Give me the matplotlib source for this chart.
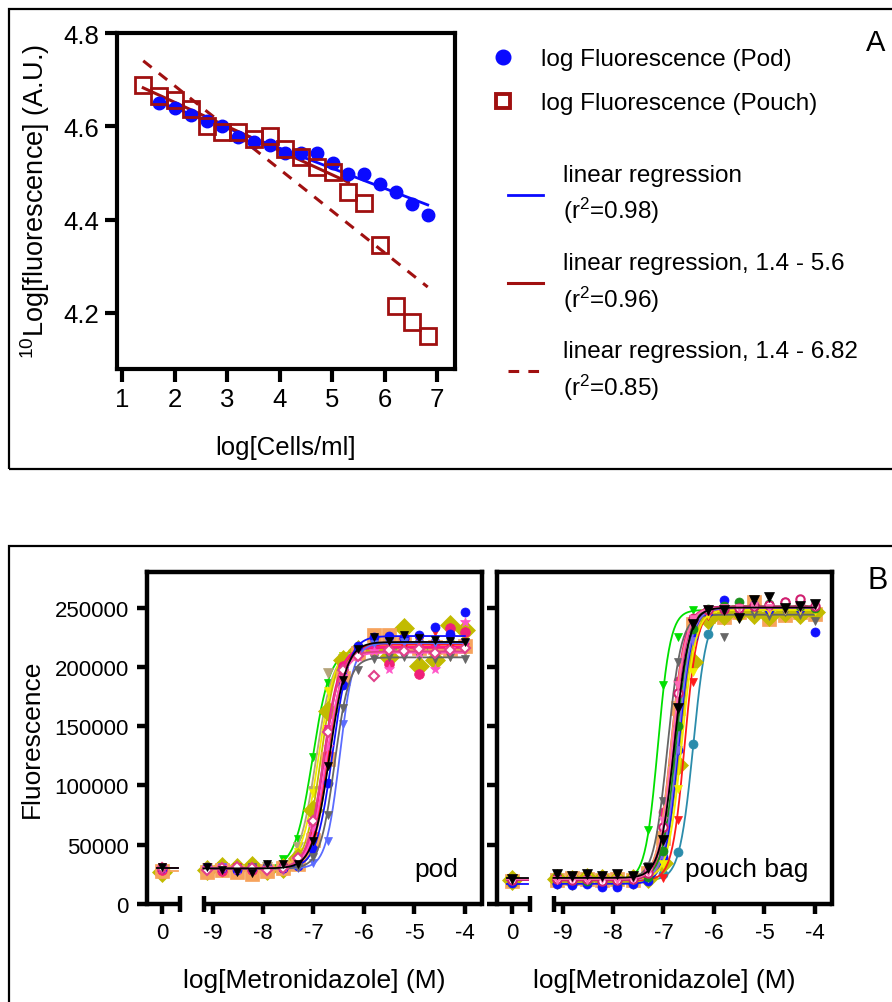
import numpy as np
import matplotlib
matplotlib.use('Agg')
import matplotlib.pyplot as plt
from matplotlib.lines import Line2D
from matplotlib.patches import Rectangle

plt.rcParams['font.family'] = ['Liberation Sans', 'DejaVu Sans']
plt.rcParams['mathtext.fontset'] = 'custom'
plt.rcParams['mathtext.rm'] = 'Liberation Sans'
plt.rcParams['mathtext.it'] = 'Liberation Sans:italic'
plt.rcParams['mathtext.bf'] = 'Liberation Sans:bold'

# ---------------- panel A data ----------------
cells_pod = [1.70, 2.00, 2.31, 2.61, 2.91, 3.21, 3.51, 3.81, 4.11, 4.41, 4.71,
             5.01, 5.31, 5.61, 5.92, 6.22, 6.52, 6.82]
fluor_pod = [4.650, 4.639, 4.625, 4.611, 4.601, 4.578, 4.566, 4.560, 4.543,
             4.542, 4.543, 4.521, 4.498, 4.498, 4.476, 4.459, 4.433, 4.411]
cells_pouch = [1.40, 1.70, 2.00, 2.31, 2.61, 2.91, 3.21, 3.51, 3.81, 4.11,
               4.41, 4.71, 5.01, 5.31, 5.61, 5.92, 6.22, 6.52, 6.82]
fluor_pouch = [4.689, 4.666, 4.657, 4.637, 4.600, 4.587, 4.587, 4.573, 4.580,
               4.552, 4.534, 4.512, 4.502, 4.460, 4.436, 4.345, 4.214, 4.181, 4.150]
pouch_cut = 5.6   # upper end of the partial regression

# ---------------- panel B data (fluorescence in thousands) ----------------
ctrl_pos = -10.0  # position of the "0" (no drug) group on the broken axis
log_conc = [-9.12, -8.82, -8.52, -8.22, -7.92, -7.61, -7.31, -7.01, -6.71,
            -6.41, -6.11, -5.81, -5.51, -5.21, -4.90, -4.60, -4.30, -4.00]

# first value of each row is the control ("0"), the rest follow log_conc
pod_values = [
    [30, 31, 29, 30, 31, 32, 38, 55, 124, 186, 209, 214, 216, 213, 217, 214, 215, 216, 214],
    [29, 30, 31, 28, 30, 31, 33, 48, 95, 195, 207, 212, 213, 215, 212, 214, 213, 209, 213],
    [30, 29, 30, 31, 29, 30, 32, 44, 94, 180, 209, 216, 219, 217, 218, 220, 216, 219, 218],
    [27, 29, 31, 30, 32, 29, 30, 39, 79, 163, 206, 214, 216, 208, 233, 201, 206, 235, 231],
    [28, 27, 29, 27, 25, 28, 30, 34, 54, 122, 191, 212, 227, 227, 219, 216, 217, 215, 218],
    [29, 30, 28, 30, 29, 31, 30, 38, 69, 147, 201, 213, 218, 202, 224, 194, 220, 233, 229],
    [30, 31, 30, 29, 30, 30, 31, 37, 66, 148, 199, 214, 216, 218, 217, 215, 218, 216, 217],
    [31, 30, 29, 31, 30, 30, 30, 35, 57, 126, 194, 214, 219, 221, 218, 222, 229, 218, 220],
    [30, 31, 30, 29, 30, 31, 30, 32, 46, 102, 185, 218, 225, 226, 224, 227, 234, 228, 246],
    [30, 29, 31, 30, 31, 30, 29, 30, 35, 53, 152, 208, 219, 220, 221, 219, 220, 221, 220],
    [30, 30, 29, 30, 31, 30, 30, 31, 40, 75, 165, 197, 207, 208, 208, 209, 207, 208, 207],
    [30, 30, 31, 29, 30, 30, 31, 38, 65, 132, 192, 208, 213, 198, 214, 212, 198, 215, 238],
    [30, 29, 30, 31, 30, 29, 30, 39, 70, 145, 197, 209, 192, 214, 213, 215, 212, 214, 216],
    [31, 31, 29, 27, 26, 34, 34, 34, 53, 116, 189, 215, 225, 222, 227, 224, 223, 222, 221],
]
# bottom, top, logEC50, hill of each fitted curve
pod_fits = [
    [30, 215, -7.02, 2.5], [30, 214, -6.95, 2.6], [30, 218, -6.90, 2.6],
    [30, 218, -6.85, 2.8], [28, 218, -6.70, 2.8], [30, 216, -6.80, 2.8],
    [30, 217, -6.78, 2.8], [30, 219, -6.72, 2.7], [30, 226, -6.62, 2.7],
    [30, 220, -6.48, 3.2], [30, 208, -6.58, 3.0], [30, 212, -6.75, 2.7],
    [30, 213, -6.80, 2.7], [30, 221, -6.68, 2.6],
]

pouch_values = [
    [20, 20, 21, 19, 20, 20, 24, 62, 185, 225, 248, 248, 249, 247, 248, 249, 248, 247, 248],
    [21, 19, 20, 19, 20, 21, 19, 20, 25, 44, 135, 228, 244, 246, 249, 247, 248, 246, 249],
    [20, 20, 19, 21, 20, 19, 21, 27, 78, 188, 241, 248, 250, 249, 251, 250, 255, 254, 250],
    [19, 20, 22, 21, 20, 21, 20, 26, 56, 165, 236, 243, 242, 246, 255, 240, 244, 246, 245],
    [20, 21, 20, 22, 21, 20, 21, 22, 35, 117, 204, 240, 244, 246, 245, 243, 246, 245, 246],
    [21, 22, 21, 20, 22, 21, 22, 32, 87, 204, 240, 243, 225, 244, 245, 243, 246, 244, 239],
    [20, 21, 19, 20, 21, 20, 19, 21, 22, 71, 187, 243, 248, 249, 250, 248, 251, 249, 248],
    [18, 17, 16, 17, 14, 14, 17, 19, 40, 130, 225, 246, 256, 250, 252, 249, 251, 250, 229],
    [20, 20, 21, 20, 19, 20, 20, 22, 40, 130, 222, 246, 249, 248, 250, 249, 248, 250, 249],
    [21, 20, 21, 22, 20, 21, 20, 22, 34, 97, 196, 244, 247, 248, 249, 247, 248, 248, 247],
    [20, 21, 20, 19, 21, 20, 21, 23, 45, 150, 232, 249, 251, 255, 251, 253, 252, 251, 250],
    [20, 21, 20, 21, 19, 20, 21, 26, 65, 178, 240, 248, 249, 250, 251, 252, 255, 257, 251],
    [21, 20, 21, 20, 21, 20, 21, 27, 70, 185, 240, 249, 250, 250, 251, 250, 249, 250, 251],
    [21, 25, 24, 25, 24, 25, 24, 30, 54, 165, 236, 248, 248, 241, 256, 259, 250, 251, 253],
]
pouch_fits = [
    [20, 248, -7.11, 3.5], [20, 248, -6.41, 3.2], [20, 250, -6.85, 3.2],
    [21, 245, -6.85, 3.2], [21, 246, -6.68, 3.2], [21, 244, -6.92, 3.2],
    [20, 249, -6.58, 3.5], [17, 250, -6.70, 3.2], [20, 249, -6.72, 3.2],
    [21, 248, -6.64, 3.2], [21, 251, -6.75, 3.2], [20, 251, -6.80, 3.2],
    [21, 250, -6.82, 3.2], [22, 250, -6.78, 3.0],
]

# styles
pod_colors = ['#00e000', '#b5a47a', '#f2ee00', '#c2bb00', '#f7a35c', '#f0207a', '#ff1493',
              '#ff1a1a', '#1010ff', '#5b6cff', '#666666', '#ff55c8', '#e0408a', '#000000']
pod_markers = ['v', 'v', 'v', 'D', 's', 'o', 'v', 'v', 'o', 'v', 'v', '*', 'D', 'v']
pod_msizes = [6, 7, 6, 10, 10, 7, 6, 6, 6.5, 6, 6, 7, 5, 6]
pod_hollow = [False] * 12 + [True, False]

pouch_colors = ['#00e000', '#2b8cab', '#f0207a', '#f7a35c', '#c2bb00', '#666666', '#ff1a1a',
                '#1010ff', '#7b68ee', '#f2ee00', '#1a8f1a', '#d02070', '#ff69b4', '#000000']
pouch_markers = ['v', 'o', 'o', 's', 'D', 'v', 'v', 'o', 'v', 'v', 'o', 'o', 'v', 'v']
pouch_msizes = [6, 6.5, 6.5, 10, 10, 6, 6, 6.5, 6, 6, 6.5, 6, 6, 7]
pouch_hollow = [False] * 11 + [True, False, False]

W, H = 892, 1003
fig = plt.figure(figsize=(W / 100, H / 100), dpi=100)


def fig_box(left, top, right, bottom):
    return [left / W, 1 - bottom / H, (right - left) / W, (bottom - top) / H]


# ---------------- panel A ----------------
axA = fig.add_axes(fig_box(117, 34, 455, 370))
blue, dred = '#0a0aff', '#a01010'
axA.plot(cells_pod, fluor_pod, 'o', color=blue, ms=9, zorder=3)
axA.plot(cells_pouch, fluor_pouch, 's', mfc='none', mec=dred, mew=2, ms=11, zorder=3)

xp = np.array(cells_pod)
k, b = np.polyfit(xp, fluor_pod, 1)
l_pod, = axA.plot([xp[0], xp[-1]], [k * xp[0] + b, k * xp[-1] + b], color=blue, lw=2)

xq = np.array(cells_pouch)
fq = np.array(fluor_pouch)
part = xq <= pouch_cut
k, b = np.polyfit(xq[part], fq[part], 1)
l_part, = axA.plot([xq[part][0], xq[part][-1]],
                   [k * xq[part][0] + b, k * xq[part][-1] + b], color=dred, lw=2.2)
k, b = np.polyfit(xq, fq, 1)
l_all, = axA.plot([xq[0], xq[-1]], [k * xq[0] + b, k * xq[-1] + b], color=dred,
                  lw=2.2, ls=(0, (3.5, 3)))

axA.set_xlim(0.9, 7.34)
axA.set_ylim(4.08, 4.8)
axA.set_xticks(range(1, 8))
axA.set_yticks([4.2, 4.4, 4.6, 4.8])
axA.set_yticklabels(['4.2', '4.4', '4.6', '4.8'])
for s in axA.spines.values():
    s.set_linewidth(3)
axA.tick_params(width=3, length=9, labelsize=18.5, pad=4)
axA.set_xlabel('log[Cells/ml]', fontsize=18.5, labelpad=17)
axA.set_ylabel(r'$^{\mathregular{10}}$Log[fluorescence] (A.U.)', fontsize=19.5, labelpad=8)

h1 = Line2D([], [], ls='none', marker='o', color=blue, ms=10.5)
h2 = Line2D([], [], ls='none', marker='s', mfc='none', mec=dred, mew=2.8, ms=10.5)
leg1 = axA.legend([h1, h2], ['log Fluorescence (Pod)', 'log Fluorescence (Pouch)'],
                  loc='upper left', bbox_to_anchor=(491 / W, 1 - 49 / H),
                  bbox_transform=fig.transFigure, frameon=False, fontsize=17.5,
                  handlelength=1.0, handletextpad=1.06, labelspacing=0.91,
                  borderpad=0, borderaxespad=0)
axA.add_artist(leg1)
leg2 = axA.legend([l_pod, l_part, l_all],
                  ['linear regression\n(r$^{\\mathregular{2}}$=0.98)',
                   'linear regression, 1.4 - 5.6\n(r$^{\\mathregular{2}}$=0.96)',
                   'linear regression, 1.4 - 6.82\n(r$^{\\mathregular{2}}$=0.85)'],
                  loc='upper left', bbox_to_anchor=(508 / W, 1 - 165 / H),
                  bbox_transform=fig.transFigure, frameon=False, fontsize=17.5,
                  handlelength=1.44, handletextpad=0.82, labelspacing=1.1,
                  borderpad=0, borderaxespad=0)
for t in leg2.get_texts():
    t.set_linespacing(1.4)

fig.text(876 / W, 1 - 43 / H, 'A', fontsize=21, ha='center', va='center')

# ---------------- panel B ----------------
def logistic(x, bottom, top, ec50, hill):
    return bottom + (top - bottom) / (1 + 10 ** ((ec50 - x) * hill))


break_l, break_r = -9.65, -9.18
x_lo, x_hi = -10.3, -3.66


def draw_panel(ax, values, fits, colors, markers, sizes, hollow, note):
    xs = np.array([ctrl_pos] + log_conc)
    seg1 = np.linspace(-10.1, -9.68, 20)
    seg2 = np.linspace(break_r, -4.0, 300)
    for i, vals in enumerate(values):
        c = colors[i]
        bot, top, ec50, hill = fits[i]
        z = 5 if c == '#000000' else 3
        for seg in (seg1, seg2):
            ax.plot(seg, logistic(seg, bot, top, ec50, hill) * 1000, color=c, lw=1.3, zorder=z)
        ax.plot(xs, np.array(vals) * 1000, ls='none', marker=markers[i], ms=sizes[i],
                color=c, mfc='white' if hollow[i] else c, mew=1.5 if hollow[i] else 0.5,
                zorder=z, clip_on=False)
    ax.set_xlim(x_lo, x_hi)
    ax.set_ylim(0, 280000)
    ax.set_xticks([ctrl_pos, -9, -8, -7, -6, -5, -4])
    ax.set_xticklabels(['0', '-9', '-8', '-7', '-6', '-5', '-4'])
    ax.set_yticks([0, 50000, 100000, 150000, 200000, 250000])
    for s in ax.spines.values():
        s.set_linewidth(3.2)
    ax.spines['bottom'].set_visible(False)
    tr = ax.get_xaxis_transform()
    for a, bnd in [(x_lo, break_l), (break_r, x_hi)]:
        ax.plot([a, bnd], [0, 0], color='black', lw=3.2, transform=tr, clip_on=False,
                solid_capstyle='butt', zorder=6)
    ax.plot([break_l, break_r], [0, 0], ls='none', marker='|', ms=11, mew=3.2,
            color='black', transform=tr, clip_on=False, zorder=6)
    ax.tick_params(width=3.2, length=7, labelsize=16, pad=6)
    ax.set_xlabel('log[Metronidazole] (M)', fontsize=19, labelpad=18)
    ax.text(0.93, 0.105, note, transform=ax.transAxes, fontsize=19, ha='right', va='center')


axB1 = fig.add_axes(fig_box(147, 573, 482, 905))
draw_panel(axB1, pod_values, pod_fits, pod_colors, pod_markers, pod_msizes, pod_hollow, 'pod')
axB1.set_yticklabels(['0', '50000', '100000', '150000', '200000', '250000'])
axB1.set_ylabel('Fluorescence', fontsize=19, labelpad=8)

axB2 = fig.add_axes(fig_box(497, 573, 832, 905))
draw_panel(axB2, pouch_values, pouch_fits, pouch_colors, pouch_markers, pouch_msizes,
           pouch_hollow, 'pouch bag')
axB2.set_yticklabels([])

fig.text(878 / W, 1 - 581 / H, 'B', fontsize=22, ha='center', va='center')

# panel frames
fig.patches.append(Rectangle((9 / W, 1 - 470 / H), 1.0, 460 / H, transform=fig.transFigure,
                             fill=False, lw=1.6, ec='black'))
fig.patches.append(Rectangle((9 / W, -0.1), 1.0, 456 / H + 0.1, transform=fig.transFigure,
                             fill=False, lw=1.6, ec='black'))

fig.savefig('out.png', dpi=100)
